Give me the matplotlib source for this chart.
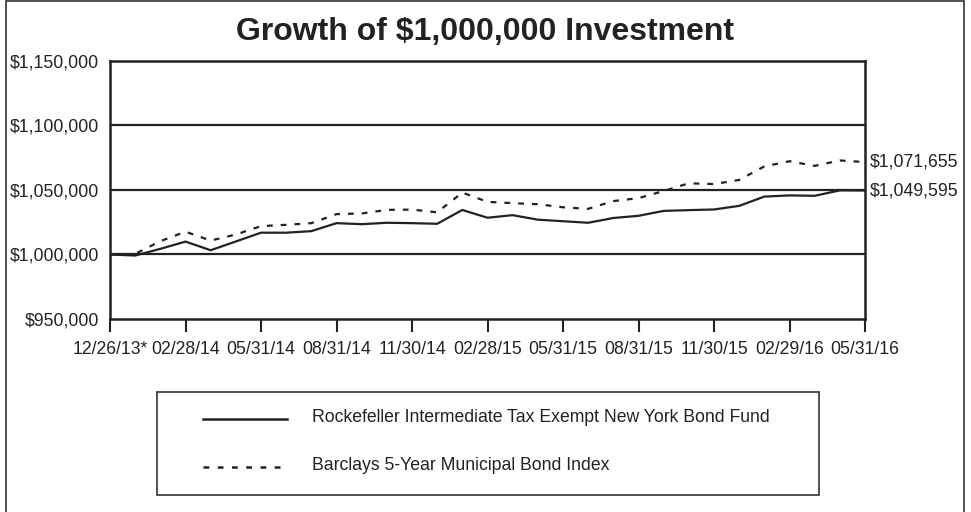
import matplotlib
matplotlib.use("Agg")
import matplotlib.pyplot as plt
from matplotlib.patches import Rectangle
from matplotlib.lines import Line2D

plt.rcParams['font.family'] = ['Liberation Sans', 'DejaVu Sans']

title = "Growth of $1,000,000 Investment"
tick_labels = ["12/26/13*", "02/28/14", "05/31/14", "08/31/14", "11/30/14", "02/28/15",
               "05/31/15", "08/31/15", "11/30/15", "02/29/16", "05/31/16"]
fund_name = "Rockefeller Intermediate Tax Exempt New York Bond Fund"
index_name = "Barclays 5-Year Municipal Bond Index"

fund = [1000000, 999200, 1004400, 1010000, 1003300, 1010100, 1016900, 1016900, 1018100,
        1024300, 1023500, 1024600, 1024300, 1023800, 1034500, 1028500, 1030500, 1027000,
        1025800, 1024600, 1028300, 1030000, 1033800, 1034400, 1034900, 1037700, 1044900,
        1045800, 1045500, 1049700, 1049595]
bench = [1000000, 1000500, 1010300, 1017700, 1010800, 1015500, 1022000, 1023000, 1024300,
         1031300, 1031800, 1034600, 1034800, 1032700, 1048000, 1040800, 1039800, 1039000,
         1036600, 1035400, 1041400, 1043700, 1049200, 1055200, 1054600, 1057800, 1068300,
         1072300, 1068700, 1072900, 1071655]
end_labels = ["$1,071,655", "$1,049,595"]
y_ticks = [950000, 1000000, 1050000, 1100000, 1150000]

W, H = 971, 512
FS = 12.7
fig = plt.figure(figsize=(W / 100, H / 100), dpi=100)
fig.patch.set_facecolor('white')

# outer border
fig.patches.append(Rectangle((6 / W, -0.01), (964 - 6) / W, 1.01 - 1 / H,
                             transform=fig.transFigure, fill=False,
                             edgecolor='#333333', linewidth=1.2))

ax = fig.add_axes([110 / W, 1 - 319 / H, (865 - 110) / W, (319 - 61) / H])
x = list(range(len(fund)))
ax.plot(x, fund, color='#222222', lw=1.6, solid_joinstyle='miter', zorder=3)
ax.plot(x, bench, color='#222222', lw=1.6, dashes=(2.6, 3.6), zorder=3)

ax.set_xlim(0, len(fund) - 1)
ax.set_ylim(950000, 1150000)
ax.set_yticks(y_ticks)
ax.set_yticklabels([f"${v:,.0f}" for v in y_ticks], fontsize=FS, color='#222222')
ax.set_xticks(list(range(0, len(fund), 3)))
ax.set_xticklabels(tick_labels, fontsize=FS, color='#222222')
ax.tick_params(axis='y', length=0, pad=8)
ax.tick_params(axis='x', length=9.5, width=1.5, direction='out', pad=6, color='#222222')
for v in y_ticks[1:-1]:
    ax.axhline(v, color='#222222', lw=1.6, zorder=2)
for s in ax.spines.values():
    s.set_linewidth(1.8)
    s.set_color('#222222')

ax.text(1.007, bench[-1], end_labels[0], transform=ax.get_yaxis_transform(),
        fontsize=FS, va='center', ha='left', color='#222222')
ax.text(1.007, fund[-1] - 300, end_labels[1], transform=ax.get_yaxis_transform(),
        fontsize=FS, va='center', ha='left', color='#222222')

fig.text(485 / W, 1 - 32 / H, title, fontsize=23, fontweight='bold',
         ha='center', va='center', color='#222222')

# legend box
fig.patches.append(Rectangle((157 / W, 1 - 495 / H), (819 - 157) / W, (495 - 392) / H,
                             transform=fig.transFigure, fill=False,
                             edgecolor='#333333', linewidth=1.2))
fig.lines.append(Line2D([203 / W, 287 / W], [1 - 419 / H, 1 - 419 / H],
                        transform=fig.transFigure, color='#222222', lw=1.8))
fig.lines.append(Line2D([203 / W, 287 / W], [1 - 467 / H, 1 - 467 / H],
                        transform=fig.transFigure, color='#222222', lw=1.8,
                        dashes=(2.3, 3.4)))
fig.text(312 / W, 1 - 418 / H, fund_name, fontsize=FS, va='center', ha='left', color='#222222')
fig.text(312 / W, 1 - 466 / H, index_name, fontsize=FS, va='center', ha='left', color='#222222')

fig.savefig("out.png", dpi=100)
